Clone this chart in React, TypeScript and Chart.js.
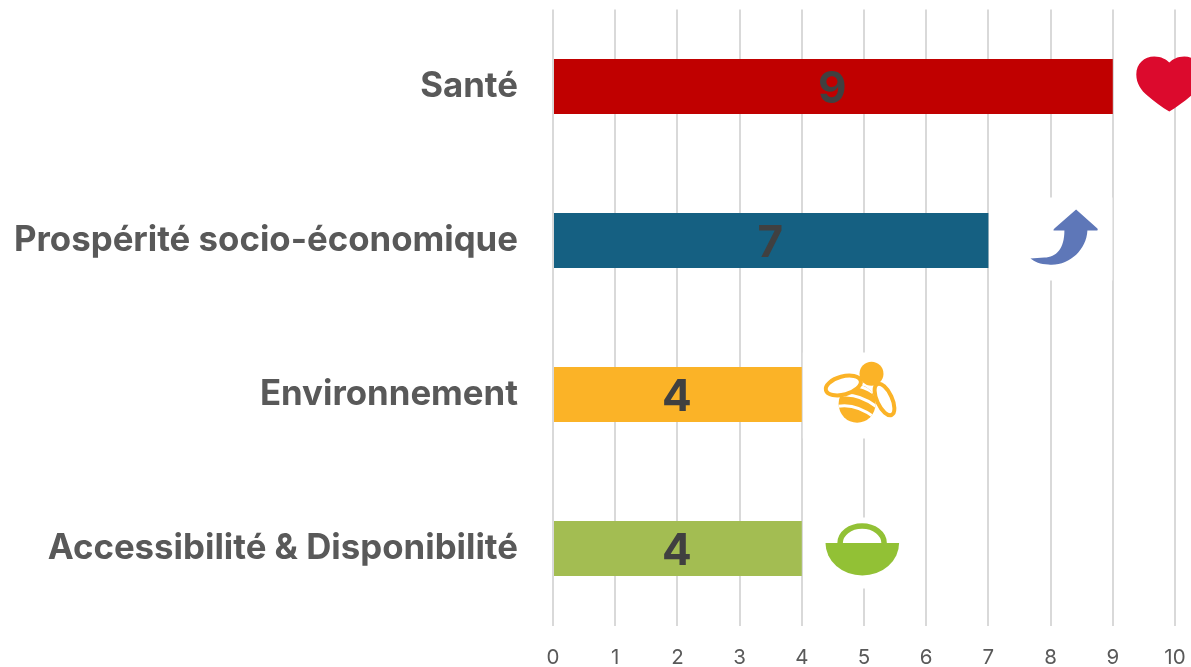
import React, { useEffect, useRef } from "react";
import { Chart, registerables } from "chart.js";

Chart.register(...registerables);

const categories = ["Santé", "Prospérité socio-économique", "Environnement", "Accessibilité & Disponibilité"];
const seriesValues = [9, 7, 4, 4];
const barColors = ["#C00000", "#156082", "#FBB327", "#A3BD52"];
const iconNames = ["heart", "arrow", "bee", "basket"];
const axisTicks = [0, 1, 2, 3, 4, 5, 6, 7, 8, 9, 10];

const iconGaps: Record<string, number> = { heart: 56.5, arrow: 76, bee: 59, basket: 60 };
const iconMasks: Record<string, number[] | null> = {
  heart: null,
  arrow: [-75, -43, 123, 83],
  bee: [-58, -42, 116, 86],
  basket: [-58, -31, 116, 71],
};

function drawHeart(c: CanvasRenderingContext2D) {
  c.fillStyle = "#DC0A2D";
  c.fill(new Path2D("M0,25 C-7,21 -15,15 -22,9 C-28,4 -33,-3 -33,-12 C-33,-23 -25,-30 -15,-30 C-8,-30 -3,-27 0,-24 C3,-27 8,-30 15,-30 C25,-30 33,-23 33,-12 C33,-3 28,4 22,9 C15,15 7,21 0,25 Z"));
}

function drawArrow(c: CanvasRenderingContext2D) {
  c.fillStyle = "#5E77B8";
  c.fill(new Path2D("M11.7,-31 L33,-12 Q34,-10 32,-10 L23,-10 C22,10 4,26 -16,24 C-24,24 -30,21 -34,18 L-20,17 C-8,17 0,8 0,-10 L-10,-10 Q-12,-10 -10,-12 Z"));
}

function drawBee(c: CanvasRenderingContext2D) {
  const o = "#FBB327";
  c.strokeStyle = o;
  c.lineWidth = 4;
  c.beginPath();
  c.ellipse(-3.7, 9.3, 18.5, 19, 0, 0, Math.PI * 2);
  c.fillStyle = o;
  c.fill();
  c.save();
  c.clip();
  c.strokeStyle = "#FFFFFF";
  c.lineWidth = 3;
  for (const d of ["M-24,12 Q-6,8 14,23", "M-21,1 Q-2,-2 18,14", "M-8,-9 Q4,-8 12,-2"]) {
    c.stroke(new Path2D(d));
  }
  c.restore();
  c.fillStyle = "#FFFFFF";
  c.beginPath();
  c.ellipse(-17.5, -9, 18, 9, (-15 * Math.PI) / 180, 0, Math.PI * 2);
  c.fill();
  c.stroke();
  c.beginPath();
  c.ellipse(23.7, 5, 17, 7.5, (65 * Math.PI) / 180, 0, Math.PI * 2);
  c.fill();
  c.stroke();
  c.fillStyle = o;
  c.beginPath();
  c.arc(10.7, -20.7, 12, 0, Math.PI * 2);
  c.fill();
}

function drawBasket(c: CanvasRenderingContext2D) {
  const g = "#92C135";
  c.strokeStyle = g;
  c.fillStyle = g;
  c.lineWidth = 5.5;
  c.beginPath();
  c.ellipse(0.3, -5.5, 22, 17, 0, Math.PI, 0);
  c.stroke();
  c.beginPath();
  c.ellipse(0.5, -5.5, 36.8, 32.5, 0, 0, Math.PI);
  c.closePath();
  c.fill();
}

const iconDrawers: Record<string, (c: CanvasRenderingContext2D) => void> = {
  heart: drawHeart,
  arrow: drawArrow,
  bee: drawBee,
  basket: drawBasket,
};

const iconPlugin = {
  id: "icons",
  afterDatasetsDraw(chart: any) {
    const { ctx, scales } = chart;
    seriesValues.forEach((value, i) => {
      const name = iconNames[i];
      const cx = scales.x.getPixelForValue(value) + iconGaps[name];
      const cy = scales.y.getPixelForValue(i);
      ctx.save();
      ctx.translate(cx, cy);
      const mask = iconMasks[name];
      if (mask) {
        ctx.fillStyle = "#FFFFFF";
        ctx.fillRect(mask[0], mask[1], mask[2], mask[3]);
      }
      iconDrawers[name](ctx);
      ctx.restore();
    });
  },
};

const valueLabelPlugin = {
  id: "valueLabels",
  afterDatasetsDraw(chart: any) {
    const { ctx, scales } = chart;
    ctx.save();
    ctx.font = 'bold 44px "Inter"';
    ctx.fillStyle = "#404040";
    ctx.textAlign = "center";
    ctx.textBaseline = "middle";
    seriesValues.forEach((value, i) => {
      ctx.fillText(String(value), scales.x.getPixelForValue(value / 2) - 0.5, scales.y.getPixelForValue(i) + 3);
    });
    ctx.restore();
  },
};

export default function App() {
  const ref = useRef<HTMLCanvasElement>(null);
  useEffect(() => {
    const chart = new Chart(ref.current as HTMLCanvasElement, {
      type: "bar",
      data: {
        labels: categories,
        datasets: [
          {
            data: seriesValues,
            backgroundColor: barColors,
            barPercentage: 55 / 154,
            categoryPercentage: 1,
          },
        ],
      },
      options: {
        indexAxis: "y",
        animation: false,
        responsive: false,
        layout: { padding: { top: 9.5, right: 16, left: 0, bottom: 0 } },
        plugins: { legend: { display: false }, tooltip: { enabled: false } },
        scales: {
          x: {
            min: axisTicks[0],
            max: axisTicks[axisTicks.length - 1],
            afterFit: (s: any) => {
              s.height = 41.5;
              s.paddingLeft = 0;
              s.paddingRight = 0;
            },
            afterBuildTicks: (s: any) => {
              s.ticks = axisTicks.map((value) => ({ value }));
            },
            border: { display: false },
            grid: { color: "#D9D9D9", lineWidth: 2, drawTicks: false },
            ticks: {
              color: "#595959",
              padding: 20,
              maxRotation: 0,
              font: { family: '"Inter"', size: 20.5 },
            },
          },
          y: {
            afterFit: (s: any) => {
              s.width = 553;
              s.paddingTop = 0;
              s.paddingBottom = 0;
            },
            border: { display: false },
            grid: { display: false, drawTicks: false },
            ticks: {
              color: "#595959",
              padding: 35,
              font: { family: '"Inter"', size: 34.8, weight: "bold" },
            },
          },
        },
      },
      plugins: [iconPlugin, valueLabelPlugin],
    } as any);
    return () => chart.destroy();
  }, []);
  return (
    <div style={{ position: "absolute", left: 0, top: 0, width: 1191, height: 667, background: "#FFFFFF", overflow: "hidden" }}>
      <canvas ref={ref} width={1191} height={667} style={{ display: "block" }} />
    </div>
  );
}
